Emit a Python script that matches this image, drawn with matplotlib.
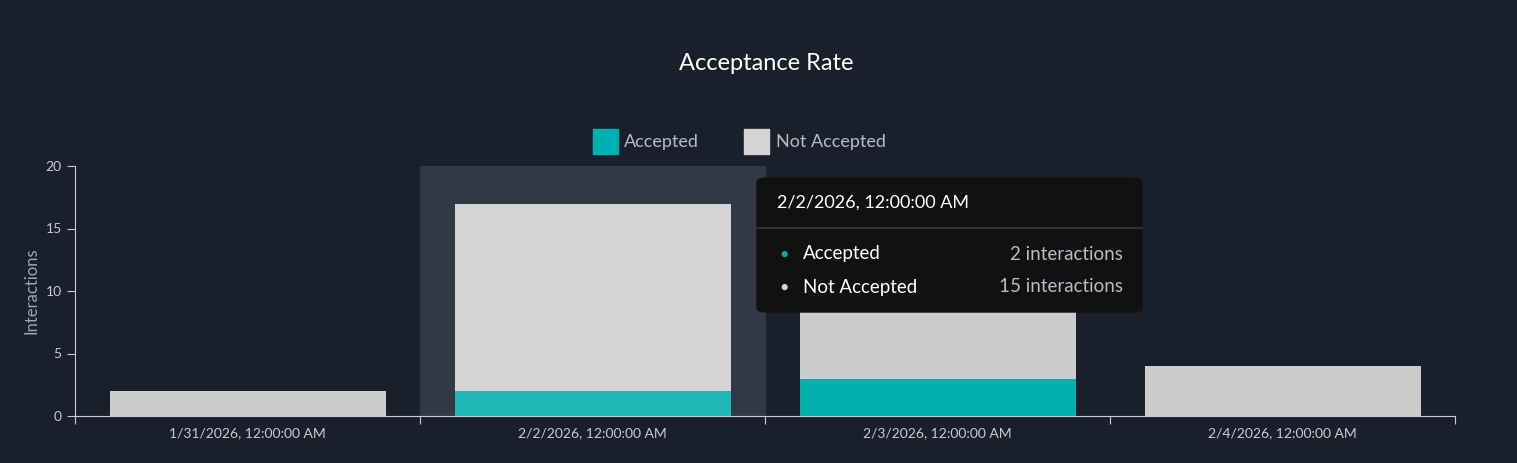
import numpy as np
import matplotlib
matplotlib.use("Agg")
import matplotlib.pyplot as plt
from matplotlib.patches import Rectangle, FancyBboxPatch

plt.rcParams['font.family'] = ['Lato', 'DejaVu Sans']

# Dati
categories = ["1/31/2026, 12:00:00 AM", "2/2/2026, 12:00:00 AM",
              "2/3/2026, 12:00:00 AM", "2/4/2026, 12:00:00 AM"]
accepted = [0, 2, 3, 0]
not_accepted = [2, 15, 9, 4]
hover_idx = 1

BG = "#19202c"
W, H = 1517, 463
fig = plt.figure(figsize=(W / 100, H / 100), dpi=100, facecolor=BG)
ax = fig.add_axes([75 / W, 1 - 416 / H, 1380 / W, 250 / H])
ax.set_facecolor(BG)

x = np.arange(len(categories))
ax.axvspan(hover_idx - 0.5, hover_idx + 0.5, color="#323844", zorder=0)
acc_col = ["#20b8b5" if i == hover_idx else "#00b0b0" for i in x]
not_col = ["#d4d4d4" if i == hover_idx else "#cccccc" for i in x]
ax.bar(x, accepted, 0.8, color=acc_col, zorder=2)
ax.bar(x, not_accepted, 0.8, bottom=accepted, color=not_col, zorder=2)

ax.set_xlim(-0.5, len(categories) - 0.5)
ax.set_ylim(0, 20)
ax.set_yticks([0, 5, 10, 15, 20])
ax.set_xticks(np.arange(-0.5, len(categories), 1), minor=False)
ax.set_xticklabels([])
ax.set_xticks(x, minor=True)
ax.set_xticklabels(categories, minor=True)
ax.tick_params(axis="x", which="minor", length=0, colors="#c8ccd4", labelsize=10, pad=8)
ax.tick_params(axis="x", which="major", length=6, color="#c8ccd4")
ax.tick_params(axis="y", colors="#c8ccd4", labelsize=10, length=6, color="#c8ccd4")
for s in ["top", "right"]:
    ax.spines[s].set_visible(False)
for s in ["left", "bottom"]:
    ax.spines[s].set_color("#c8ccd4")
ax.set_ylabel("Interactions", color="#a0a6b0", fontsize=12)

fig.text(0.505, 1 - 64 / H, "Acceptance Rate", color="white", fontsize=17, ha="center", va="center")
# Legenda
fig.patches.append(Rectangle((593 / W, 1 - 154 / H), 25 / W, 25 / H, color="#00b0b0", transform=fig.transFigure))
fig.text(624 / W, 1 - 142 / H, "Accepted", color="#b8bcc4", fontsize=13, va="center")
fig.patches.append(Rectangle((744 / W, 1 - 154 / H), 25 / W, 25 / H, color="#d4d4d4", transform=fig.transFigure))
fig.text(776 / W, 1 - 142 / H, "Not Accepted", color="#b8bcc4", fontsize=13, va="center")

# Tooltip
fig.patches.append(FancyBboxPatch((757 / W, 1 - 312 / H), 385 / W, 134 / H,
                                  boxstyle="round,pad=0,rounding_size=0.008",
                                  color="#111111", transform=fig.transFigure, zorder=5))
fig.lines.append(plt.Line2D([757 / W, 1142 / W], [1 - 228 / H] * 2, color="#333333",
                            transform=fig.transFigure, zorder=6))
fig.text(777 / W, 1 - 203 / H, categories[hover_idx], color="white", fontsize=13, va="center", zorder=7)
rows = [("Accepted", "#00b0b0", accepted[hover_idx], 254),
        ("Not Accepted", "#d4d4d4", not_accepted[hover_idx], 287)]
for name, c, v, yy in rows:
    fig.text(784 / W, 1 - yy / H, "\u25CF", color=c, fontsize=9, va="center", ha="center", zorder=7)
    fig.text(803 / W, 1 - yy / H, name, color="white", fontsize=13.5, va="center", zorder=7)
    fig.text(1123 / W, 1 - yy / H, f"{v} interactions", color="#b8bcc4", fontsize=13.5,
             va="center", ha="right", zorder=7)

fig.savefig("out.png", dpi=100, facecolor=BG)
